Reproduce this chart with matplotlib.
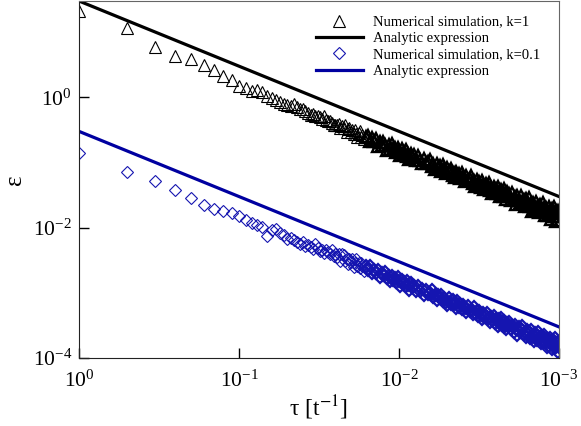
import numpy as np
import matplotlib
matplotlib.use("Agg")
import matplotlib.pyplot as plt
from matplotlib.ticker import NullLocator

plt.rcParams['font.family'] = ['Liberation Serif', 'DejaVu Serif']
plt.rcParams['mathtext.fontset'] = 'stix'

# time step index n, tau = 1/n (dense part sampled)
n_vals = np.concatenate([np.arange(1, 61), np.arange(62, 121, 2), np.arange(124, 241, 4),
                         np.arange(246, 481, 6), np.arange(490, 1001, 10)])
tau = 1.0 / n_vals

# numerical simulation, k=1
eps_k1 = [21, 11.7, 5.9, 4.3, 3.9, 3.1, 2.6, 2.15, 1.83, 1.51,
          1.40, 1.24, 1.28, 1.22, 1.04, 0.98, 0.92, 0.84, 0.80, 0.77,
          0.74, 0.80, 0.70, 0.66, 0.65, 0.61, 0.57, 0.54, 0.55, 0.52,
          0.51, 0.50, 0.46, 0.51, 0.45, 0.43, 0.44, 0.40, 0.37, 0.38,
          0.38, 0.39, 0.335, 0.36, 0.333, 0.37, 0.29, 0.325, 0.337, 0.294,
          0.31, 0.27, 0.317, 0.278, 0.245, 0.284, 0.305, 0.248, 0.264, 0.23,
          0.247, 0.258, 0.214, 0.234, 0.21, 0.233, 0.182, 0.205, 0.185, 0.206,
          0.183, 0.157, 0.185, 0.16, 0.19, 0.16, 0.166, 0.144, 0.165, 0.15,
          0.132, 0.159, 0.136, 0.145, 0.158, 0.126, 0.134, 0.114, 0.137, 0.1225,
          0.128, 0.108, 0.127, 0.110, 0.0964, 0.112, 0.0973, 0.103, 0.109, 0.088,
          0.0933, 0.0786, 0.0959, 0.0835, 0.0883, 0.075, 0.0926, 0.078, 0.0689, 0.081,
          0.0706, 0.075, 0.0792, 0.0653, 0.0695, 0.059, 0.0724, 0.0634, 0.0674, 0.0575,
          0.0695, 0.0595, 0.0523, 0.0614, 0.0533, 0.0565, 0.0617, 0.049, 0.052, 0.044,
          0.0539, 0.0471, 0.050, 0.0426, 0.0518, 0.0446, 0.0395, 0.0466, 0.0407, 0.0433,
          0.0484, 0.0379, 0.0405, 0.0336, 0.0423, 0.0371, 0.0395, 0.0338, 0.0413, 0.0357,
          0.031, 0.0375, 0.0329, 0.0351, 0.0387, 0.0309, 0.0331, 0.0276, 0.0348, 0.0306,
          0.0324, 0.027, 0.0341, 0.0277, 0.0294, 0.0233, 0.0305, 0.0268, 0.0242, 0.031,
          0.0249, 0.0265, 0.0216, 0.0276, 0.0243, 0.022, 0.0286, 0.0218, 0.0242, 0.0181,
          0.0239, 0.0214, 0.019, 0.0246, 0.0201, 0.0215, 0.0172, 0.0225, 0.0199, 0.0177,
          0.0239, 0.018, 0.020, 0.0154, 0.0202, 0.0179, 0.0155, 0.0209, 0.0169, 0.0181,
          0.0138, 0.019, 0.0168, 0.015, 0.0207, 0.0153, 0.0174, 0.0125, 0.0179, 0.0153,
          0.0133, 0.0183]

# numerical simulation, k=0.1
eps_k01 = [0.14, 0.071, 0.052, 0.038, 0.028, 0.022, 0.019, 0.0177, 0.0166, 0.0152,
           0.0132, 0.0117, 0.0110, 0.0104, 0.0074, 0.0092, 0.0095, 0.0083, 0.0078, 0.0066,
           0.0070, 0.0065, 0.0061, 0.0057, 0.0060, 0.0053, 0.0054, 0.0050, 0.0047, 0.0057,
           0.0048, 0.0044, 0.0046, 0.0041, 0.0045, 0.0043, 0.0039, 0.0046, 0.0037, 0.0040,
           0.00351, 0.00393, 0.00307, 0.00395, 0.0038, 0.00306, 0.00332, 0.00281, 0.0033, 0.00294,
           0.00329, 0.00248, 0.00289, 0.00328, 0.00256, 0.00284, 0.00242, 0.00284, 0.00254, 0.0022,
           0.00261, 0.00225, 0.00259, 0.00203, 0.00223, 0.00204, 0.00223, 0.00174, 0.00204, 0.00188,
           0.00212, 0.00168, 0.00178, 0.00153, 0.00183, 0.0016, 0.00169, 0.00144, 0.00174, 0.0015,
           0.00129, 0.00156, 0.00136, 0.00145, 0.00128, 0.0015, 0.00132, 0.00111, 0.0014, 0.00123,
           0.00126, 0.00108, 0.00129, 0.00108, 0.00113, 0.000915, 0.00112, 0.000946, 0.00098, 0.00109,
           0.00086, 0.00093, 0.000783, 0.000918, 0.000833, 0.000913, 0.000736, 0.000827, 0.000734, 0.00066,
           0.000838, 0.00072, 0.000665, 0.000765, 0.000666, 0.000697, 0.000592, 0.000748, 0.00061, 0.000663,
           0.000561, 0.000655, 0.00058, 0.0005, 0.000633, 0.000522, 0.000553, 0.000468, 0.000602, 0.00049,
           0.000519, 0.000443, 0.000528, 0.000463, 0.000391, 0.000491, 0.000421, 0.000448, 0.000491, 0.000392,
           0.000418, 0.000355, 0.000429, 0.000383, 0.000438, 0.000349, 0.000395, 0.000368, 0.000305, 0.000393,
           0.000338, 0.000416, 0.000322, 0.000352, 0.0003, 0.000368, 0.000325, 0.000276, 0.000342, 0.000306,
           0.000355, 0.000276, 0.000306, 0.000254, 0.000323, 0.000278, 0.000223, 0.000295, 0.000252, 0.000274,
           0.000315, 0.000235, 0.000251, 0.000208, 0.000267, 0.00023, 0.000249, 0.000205, 0.000269, 0.000212,
           0.000226, 0.00018, 0.000241, 0.000208, 0.000189, 0.000255, 0.000196, 0.000209, 0.000172, 0.000216,
           0.000194, 0.000176, 0.000226, 0.000176, 0.000195, 0.000146, 0.000194, 0.000175, 0.000155, 0.000205,
           0.000165, 0.000177, 0.000139, 0.000186, 0.000165, 0.000147, 0.000202, 0.00015, 0.00017, 0.000122,
           0.000176, 0.00015]

# analytic expressions (straight lines in log-log), end points
tau_line = [1.0, 1e-3]
eps_line_k1 = [30.0, 0.03]
eps_line_k01 = [0.30, 3.0e-4]

eps_k1 = np.array(eps_k1)
eps_k01 = np.array(eps_k01)
dense = n_vals > 60   # crowded part drawn with heavier outlines

fig = plt.figure(figsize=(5.81, 4.26), dpi=100)
ax = fig.add_axes([79 / 581, 1 - 358 / 426, 480 / 581, 357 / 426])

blue_pts = '#1515b0'
blue_line = '#0000a0'

ax.plot(tau[~dense], eps_k1[~dense], linestyle='none', marker='^', ms=8.5, mfc='none', mec='black',
        mew=0.8, label='Numerical simulation, k=1')
ax.plot(tau[dense], eps_k1[dense], linestyle='none', marker='^', ms=8.5, mfc='none', mec='black',
        mew=1.7)
ax.plot(tau_line, eps_line_k1, color='black', lw=2.3, label='Analytic expression')
ax.plot(tau[~dense], eps_k01[~dense], linestyle='none', marker='D', ms=6.3, mfc='none', mec=blue_pts,
        mew=0.8, label='Numerical simulation, k=0.1')
ax.plot(tau[dense], eps_k01[dense], linestyle='none', marker='D', ms=6.3, mfc='none', mec=blue_pts,
        mew=1.6)
ax.plot(tau_line, eps_line_k01, color=blue_line, lw=2.3, label='Analytic expression')

ax.set_xscale('log')
ax.set_yscale('log')
ax.set_xlim(1, 1e-3)
ax.set_xticks([1, 1e-1, 1e-2, 1e-3])
ax.set_yticks([1e-4, 1e-2, 1e0])
ax.xaxis.set_minor_locator(NullLocator())
ax.yaxis.set_minor_locator(NullLocator())
ax.set_ylim(1e-4, 30)

ax.tick_params(which='major', direction='in', length=7.5, width=1, labelsize=15.5, pad=5)
ax.tick_params(axis='x', pad=9)
for s in ['left', 'bottom']:
    ax.spines[s].set_color('#222222')
for s in ['top', 'right']:
    ax.spines[s].set_color('#666666')

ax.set_xlabel('τ [t$^{-1}$]', fontsize=17, labelpad=1)
ax.set_ylabel('ε', fontsize=18, labelpad=5)

ax.legend(loc='upper left', bbox_to_anchor=(0.4817, 0.976), frameon=False, fontsize=10.5,
          handlelength=3.2, handletextpad=0.68, labelspacing=0.22, borderaxespad=0)

fig.savefig('out.png', dpi=100)
